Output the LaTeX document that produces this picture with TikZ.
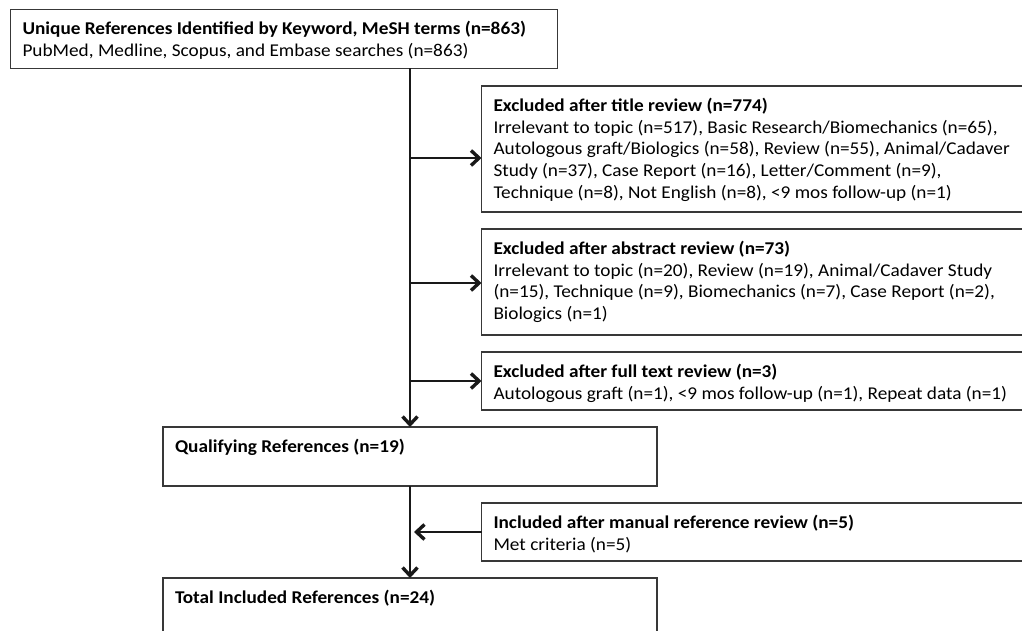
\documentclass[tikz,border=0pt]{standalone}
\usepackage{fontspec}
\setmainfont{Carlito}[FakeStretch=1.07]
\usetikzlibrary{arrows.meta}
\newcommand\bx[3]{\parbox[c][#2][t]{#1}{\raggedright\fontsize{18}{21.7}\selectfont\rule{0pt}{25.5pt}#3}}
\tikzset{
  flowbox/.style={draw=black!78, line width=1.3pt, anchor=north west, inner xsep=12pt, inner ysep=0pt, outer sep=0pt, rectangle},
  conn/.style={line width=1.5pt, black!90},
  arr/.style={conn, -{Straight Barb[length=8pt,width=15pt,line width=3.4pt]}}
}
\begin{document}
\begin{tikzpicture}[x=1pt,y=-1pt]
\useasboundingbox (0,0) rectangle (1022,631);
\clip (0,0) rectangle (1022,631);
\node[flowbox] (src) at (10.5,9.3) {\bx{523pt}{59pt}{\textbf{Unique References Identified by Keyword, MeSH terms (n=863)}\\PubMed, Medline, Scopus, and Embase searches (n=863)}};
\node[flowbox] (ex1) at (481.5,86) {\bx{525pt}{126pt}{\textbf{Excluded after title review (n=774)}\\Irrelevant to topic (n=517), Basic Research/Biomechanics (n=65),\\Autologous graft/Biologics (n=58), Review (n=55), Animal/Cadaver\\Study (n=37), Case Report (n=16), Letter/Comment (n=9),\\Technique (n=8), Not English (n=8), <9 mos follow-up (n=1)}};
\node[flowbox] (ex2) at (481.5,229) {\bx{525pt}{106pt}{\textbf{Excluded after abstract review (n=73)}\\Irrelevant to topic (n=20), Review (n=19), Animal/Cadaver Study\\(n=15), Technique (n=9), Biomechanics (n=7), Case Report (n=2),\\Biologics (n=1)}};
\node[flowbox] (ex3) at (481.5,352) {\bx{525pt}{58pt}{\textbf{Excluded after full text review (n=3)}\\Autologous graft (n=1), <9 mos follow-up (n=1), Repeat data (n=1)}};
\node[flowbox] (qual) at (163,427) {\bx{470pt}{59pt}{\textbf{Qualifying References (n=19)}}};
\node[flowbox] (inc) at (481.5,503) {\bx{525pt}{58pt}{\textbf{Included after manual reference review (n=5)}\\Met criteria (n=5)}};
\node[flowbox] (tot) at (163,578) {\bx{470pt}{70pt}{\textbf{Total Included References (n=24)}}};
\draw[arr] (qual.north |- src.south) -- (qual.north);
\draw[arr] ([yshift=-9pt]ex1.west -| qual.north) -- ([yshift=-9pt]ex1.west);
\draw[arr] ([yshift=-1pt]ex2.west -| qual.north) -- ([yshift=-1pt]ex2.west);
\draw[arr] (qual.north |- ex3.west) -- (ex3.west);
\draw[arr] (qual.south) -- (tot.north);
\draw[arr, shorten >=4pt] (inc.west) -- (inc.west -| qual.south);
\end{tikzpicture}
\end{document}
